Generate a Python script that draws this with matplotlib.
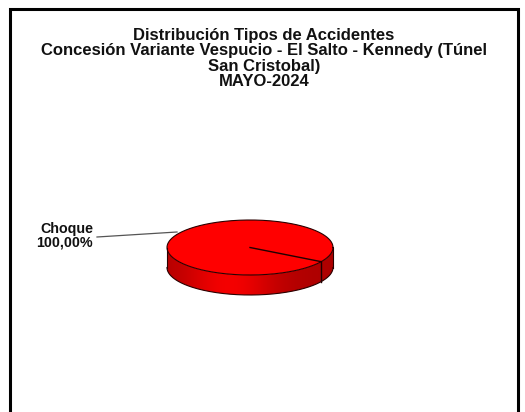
import numpy as np
import matplotlib.pyplot as plt
from matplotlib.patches import Polygon

plt.rcParams['font.family'] = ['Liberation Sans', 'DejaVu Sans']

labels = ['Choque']
values = [100.0]
colors = [(1.0, 0.0, 0.0)]
title = ('Distribución Tipos de Accidentes\n'
         'Concesión Variante Vespucio - El Salto - Kennedy (Túnel\n'
         'San Cristobal)\n'
         'MAYO-2024')


def ell(cx, cy, rx, ry, t):
  t = np.radians(t)
  return cx + rx*np.cos(t), cy + ry*np.sin(t)


def draw_pie3d(ax, values, colors, cx=250, cy=247.5, rx=83, ry=27.5, depth=20, start=31):
  total = float(sum(values))
  bounds = [start]
  for v in values:
    bounds.append(bounds[-1] + 360.0*v/total)

  # side of the disc (front half), one shaded gradient per slice
  for j in range(len(values)):
    a, b = bounds[j], bounds[j+1]
    ts = np.linspace(0, 180, 361)
    vis = [t for t in ts if a <= t < b or a <= t + 360 < b]
    if len(vis) < 2:
      continue
    ts = np.array(vis)
    px, py = ell(cx, cy, rx, ry, ts)
    pts = list(zip(px, py)) + list(zip(px[::-1], py[::-1] + depth))
    poly = Polygon(pts, closed=True, fc='none', ec='none')
    ax.add_patch(poly)
    xs = np.linspace(-1, 1, 300)
    shade = 0.68 + 0.28*np.exp(-((xs + 0.25)/0.55)**2)
    shade = np.where(xs > 0.75, np.minimum(shade, 0.78), shade)
    img = np.zeros((2, len(xs), 3))
    for ch in range(3):
      img[:, :, ch] = colors[j][ch]*shade
    im = ax.imshow(img, extent=(cx-rx, cx+rx, cy+ry+depth, cy-ry), aspect='auto',
                   interpolation='bilinear', zorder=1)
    im.set_clip_path(poly)

  ts = np.linspace(0, 180, 181)
  bx, by = ell(cx, cy, rx, ry, ts)
  ax.plot(bx, by+depth, color='#2a0000', lw=0.8, zorder=3)
  ax.plot([cx-rx, cx-rx], [cy, cy+depth], color='#2a0000', lw=0.8, zorder=3)
  ax.plot([cx+rx, cx+rx], [cy, cy+depth], color='#2a0000', lw=0.8, zorder=3)

  # top faces
  for j in range(len(values)):
    tt = np.linspace(bounds[j], bounds[j+1], 200)
    px, py = ell(cx, cy, rx, ry, tt)
    pts = list(zip(px, py))
    if values[j] < total:
      pts = [(cx, cy)] + pts
    ax.add_patch(Polygon(pts, closed=True, fc=colors[j], ec='none', zorder=2))
  tt = np.linspace(0, 360, 400)
  px, py = ell(cx, cy, rx, ry, tt)
  ax.plot(px, py, color='#2a0000', lw=0.8, zorder=3)

  # slice boundaries and seams on the side
  for b in (bounds[:-1] if len(values) > 1 else bounds[:1]):
    ex, ey = ell(cx, cy, rx, ry, b)
    ax.plot([cx, ex], [cy, ey], color='#200000', lw=1.0, zorder=4)
    if 0 < b % 360 < 180:
      ax.plot([ex, ex], [ey, ey+depth], color='#200000', lw=1.0, zorder=4)

  # label with leader line
  for j in range(len(values)):
    pct = ('%.2f' % (100*values[j]/total)).replace('.', ',')
    ax.plot([97, 177], [237, 232], color='#555555', lw=0.9, zorder=3)
    ax.text(93, 236, '%s\n%s%%' % (labels[j], pct),
            ha='right', va='center', fontsize=10.3, fontweight='bold', color='#111111',
            linespacing=0.95)


fig = plt.figure(figsize=(5.25, 4.12), dpi=100)
ax = fig.add_axes([0, 0, 1, 1])
ax.set_xlim(0, 525)
ax.set_ylim(412, 0)
ax.axis('off')

# frame
ax.plot([10, 10, 518, 518], [420, 9, 9, 420], color='black', lw=2.2, solid_joinstyle='miter')

ax.text(264, 58.5, title, ha='center', va='center', fontsize=12, fontweight='bold',
        color='#111111', linespacing=1.02)

draw_pie3d(ax, values, colors)

fig.savefig('out.png', dpi=100)
